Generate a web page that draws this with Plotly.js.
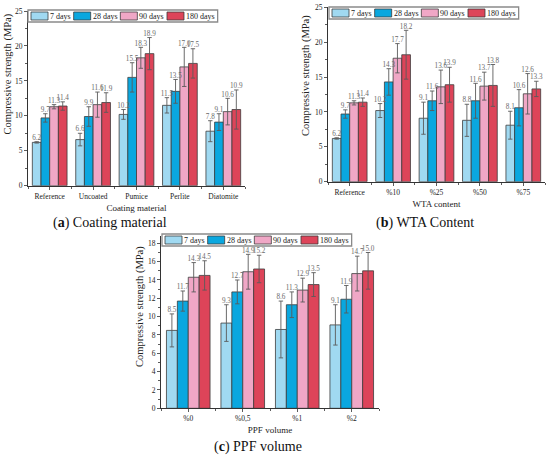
<!DOCTYPE html>
<html>
<head>
<meta charset="utf-8">
<script src="https://cdn.plot.ly/plotly-3.0.1.min.js"></script>
<style>html,body{margin:0;padding:0;background:#fff;}#chart{width:550px;height:456px;}</style>
</head>
<body>
<div id="chart"></div>
<script>
// ---------------- DATA ----------------
const seriesNames = ['7 days', '28 days', '90 days', '180 days'];

// (a) Coating material
const coatCats = ['Reference', 'Uncoated', 'Pumice', 'Perlite', 'Diatomite'];
const coat7   = [6.2, 6.6, 10.2, 11.5, 7.8];
const coat28  = [9.7, 9.9, 15.5, 13.5, 9.1];
const coat90  = [11.3, 11.6, 18.3, 17.0, 10.6];
const coat180 = [11.4, 11.9, 18.9, 17.5, 10.9];
const coat7Err   = [0.1, 0.9, 0.7, 1.1, 1.5];
const coat28Err  = [0.6, 1.4, 2.1, 1.7, 1.2];
const coat90Err  = [0.3, 1.8, 1.5, 2.8, 1.9];
const coat180Err = [0.6, 1.4, 2.3, 2.1, 2.8];

// (b) WTA content
const wtaCats = ['Reference', '%10', '%25', '%50', '%75'];
const wta7   = [6.2, 10.2, 9.1, 8.8, 8.1];
const wta28  = [9.7, 14.3, 11.6, 11.6, 10.6];
const wta90  = [11.3, 17.7, 13.6, 13.7, 12.6];
const wta180 = [11.4, 18.2, 13.9, 13.8, 13.3];
const wta7Err   = [0.1, 1.0, 2.3, 2.3, 2.0];
const wta28Err  = [0.6, 1.9, 1.4, 2.5, 2.6];
const wta90Err  = [0.3, 2.1, 2.4, 2.0, 2.9];
const wta180Err = [0.6, 3.5, 2.5, 3.0, 1.1];

// (c) PPF volume
const ppfCats = ['%0', '%0,5', '%1', '%2'];
const ppf7   = [8.5, 9.3, 8.6, 9.1];
const ppf28  = [11.7, 12.7, 11.3, 11.9];
const ppf90  = [14.3, 14.9, 12.9, 14.7];
const ppf180 = [14.5, 15.2, 13.5, 15.0];
const ppf7Err   = [1.8, 2.0, 3.1, 2.2];
const ppf28Err  = [1.1, 1.3, 1.4, 1.5];
const ppf90Err  = [1.6, 1.9, 1.3, 1.9];
const ppf180Err = [1.6, 1.5, 1.3, 2.0];

// ---------------- STYLE ----------------
const W = 550, H = 456;
const px = x => x / W;
const py = y => 1 - y / H;
const colors = ['#A0D9F1', '#0AA7DF', '#F0A7C6', '#DD4459'];
const FONT = '"Liberation Serif", "Times New Roman", serif';
const BW = 0.2;

const panels = [
  {cats: coatCats, vals: [coat7, coat28, coat90, coat180], errs: [coat7Err, coat28Err, coat90Err, coat180Err],
   ax: '', left: 28, right: 245, top: 11, bottom: 185.7, ymax: 25, dtick: 5, minor: 2.5,
   leg: {left: 28, top: 10, h: 12}, ytitle: {x: 7.5, y: 74}, xtitle: 'Coating material',
   sub: {text: '(<b>a</b>) Coating material', x: 110, y: 223}},
  {cats: wtaCats, vals: [wta7, wta28, wta90, wta180], errs: [wta7Err, wta28Err, wta90Err, wta180Err],
   ax: '2', left: 328, right: 545, top: 7.3, bottom: 181.7, ymax: 25, dtick: 5, minor: 2.5,
   leg: {left: 329, top: 7, h: 12}, ytitle: {x: 306, y: 76}, xtitle: 'WTA content',
   sub: {text: '(<b>b</b>) WTA Content', x: 425, y: 223}},
  {cats: ppfCats, vals: [ppf7, ppf28, ppf90, ppf180], errs: [ppf7Err, ppf28Err, ppf90Err, ppf180Err],
   ax: '3', left: 161, right: 379, top: 236, bottom: 408.3, ymax: 18.8, dtick: 2, minor: 1,
   leg: {left: 162, top: 234, h: 12}, ytitle: {x: 140, y: 306}, xtitle: 'PPF volume',
   sub: {text: '(<b>c</b>) PPF volume', x: 258, y: 447}}
];

const canvas = document.createElement('canvas');
const ctx = canvas.getContext('2d');
function textW(s, size) { ctx.font = size + 'px "Liberation Serif"'; return ctx.measureText(s).width; }

const traces = [];
const layout = {
  width: W, height: H, margin: {l: 0, r: 0, t: 0, b: 0},
  paper_bgcolor: '#fff', plot_bgcolor: 'rgba(0,0,0,0)',
  showlegend: false, barmode: 'overlay',
  font: {family: FONT, color: '#222'},
  shapes: [], annotations: []
};

panels.forEach(p => {
  const xa = 'x' + p.ax, ya = 'y' + p.ax;
  const idx = p.cats.map((c, i) => i);
  p.vals.forEach((vals, s) => {
    const xs = idx.map(i => i + (s - 1.5) * BW);
    traces.push({
      type: 'bar', x: xs, y: vals, width: BW, xaxis: xa, yaxis: ya,
      name: seriesNames[s],
      marker: {color: colors[s], line: {color: '#3c3c3c', width: 0.8}},
      error_y: {type: 'data', array: p.errs[s], visible: true, color: '#5a5a5a', thickness: 0.9, width: 2.2},
      hoverinfo: 'y'
    });
    traces.push({
      type: 'scatter', mode: 'text', x: xs, y: vals.map((v, i) => v + p.errs[s][i]),
      text: vals.map(v => v.toFixed(1)), textposition: 'top center',
      textfont: {family: FONT, size: 7.2, color: '#6a6a6a'},
      xaxis: xa, yaxis: ya, hoverinfo: 'skip', cliponaxis: false
    });
  });
  layout['xaxis' + p.ax] = {
    domain: [px(p.left), px(p.right)], anchor: ya,
    range: [-0.5, p.cats.length - 0.5], tickmode: 'array', tickvals: idx, ticktext: p.cats,
    ticks: 'outside', ticklen: 3, tickcolor: '#333', tickwidth: 0.8,
    minor: {tickmode: 'linear', tick0: 0.5, dtick: 1, ticks: 'outside', ticklen: 2, tickcolor: '#333', tickwidth: 0.8},
    showline: true, linecolor: '#333', linewidth: 1, showgrid: false, zeroline: false,
    tickfont: {family: FONT, size: 7.5, color: '#222'},
    title: {text: p.xtitle, font: {family: FONT, size: 9, color: '#222'}, standoff: 4},
    fixedrange: true
  };
  layout['yaxis' + p.ax] = {
    domain: [py(p.bottom), py(p.top)], anchor: xa,
    range: [0, p.ymax], dtick: p.dtick, tick0: 0,
    ticks: 'outside', ticklen: 3, tickcolor: '#333', tickwidth: 0.8,
    minor: {dtick: p.minor, ticks: 'outside', ticklen: 2, tickcolor: '#333', tickwidth: 0.8},
    showline: true, linecolor: '#333', linewidth: 1, showgrid: false, zeroline: false,
    tickfont: {family: FONT, size: 7.5, color: '#222'},
    fixedrange: true
  };
  // y title
  layout.annotations.push({
    xref: 'paper', yref: 'paper', x: px(p.ytitle.x), y: py(p.ytitle.y),
    text: 'Compressive strength (MPa)', textangle: -90, showarrow: false,
    font: {family: FONT, size: 10.5, color: '#222'}, xanchor: 'center', yanchor: 'middle'
  });
  // subtitle
  layout.annotations.push({
    xref: 'paper', yref: 'paper', x: px(p.sub.x), y: py(p.sub.y),
    text: p.sub.text, showarrow: false,
    font: {family: FONT, size: 14, color: '#111'}, xanchor: 'center', yanchor: 'middle'
  });
  // custom legend
  const L = p.leg, fs = 8;
  let cx = L.left + 3;
  const items = [];
  seriesNames.forEach((n, s) => {
    items.push({x0: cx, s: s, n: n});
    cx += 17 + 2 + textW(n, fs) + 3;
  });
  layout.shapes.push({
    type: 'rect', xref: 'paper', yref: 'paper',
    x0: px(L.left), x1: px(cx), y0: py(L.top + L.h), y1: py(L.top),
    fillcolor: '#fff', line: {color: '#8a8a8a', width: 1.3}
  });
  items.forEach(it => {
    layout.shapes.push({
      type: 'rect', xref: 'paper', yref: 'paper',
      x0: px(it.x0), x1: px(it.x0 + 17), y0: py(L.top + L.h - 2), y1: py(L.top + 2),
      fillcolor: colors[it.s], line: {color: '#3c3c3c', width: 0.8}
    });
    layout.annotations.push({
      xref: 'paper', yref: 'paper', x: px(it.x0 + 18), y: py(L.top + L.h / 2),
      text: it.n, showarrow: false, xanchor: 'left', yanchor: 'middle', borderpad: 0,
      font: {family: FONT, size: fs, color: '#222'}
    });
  });
});

Plotly.newPlot('chart', traces, layout, {staticPlot: true, displayModeBar: false});
</script>
</body>
</html>
